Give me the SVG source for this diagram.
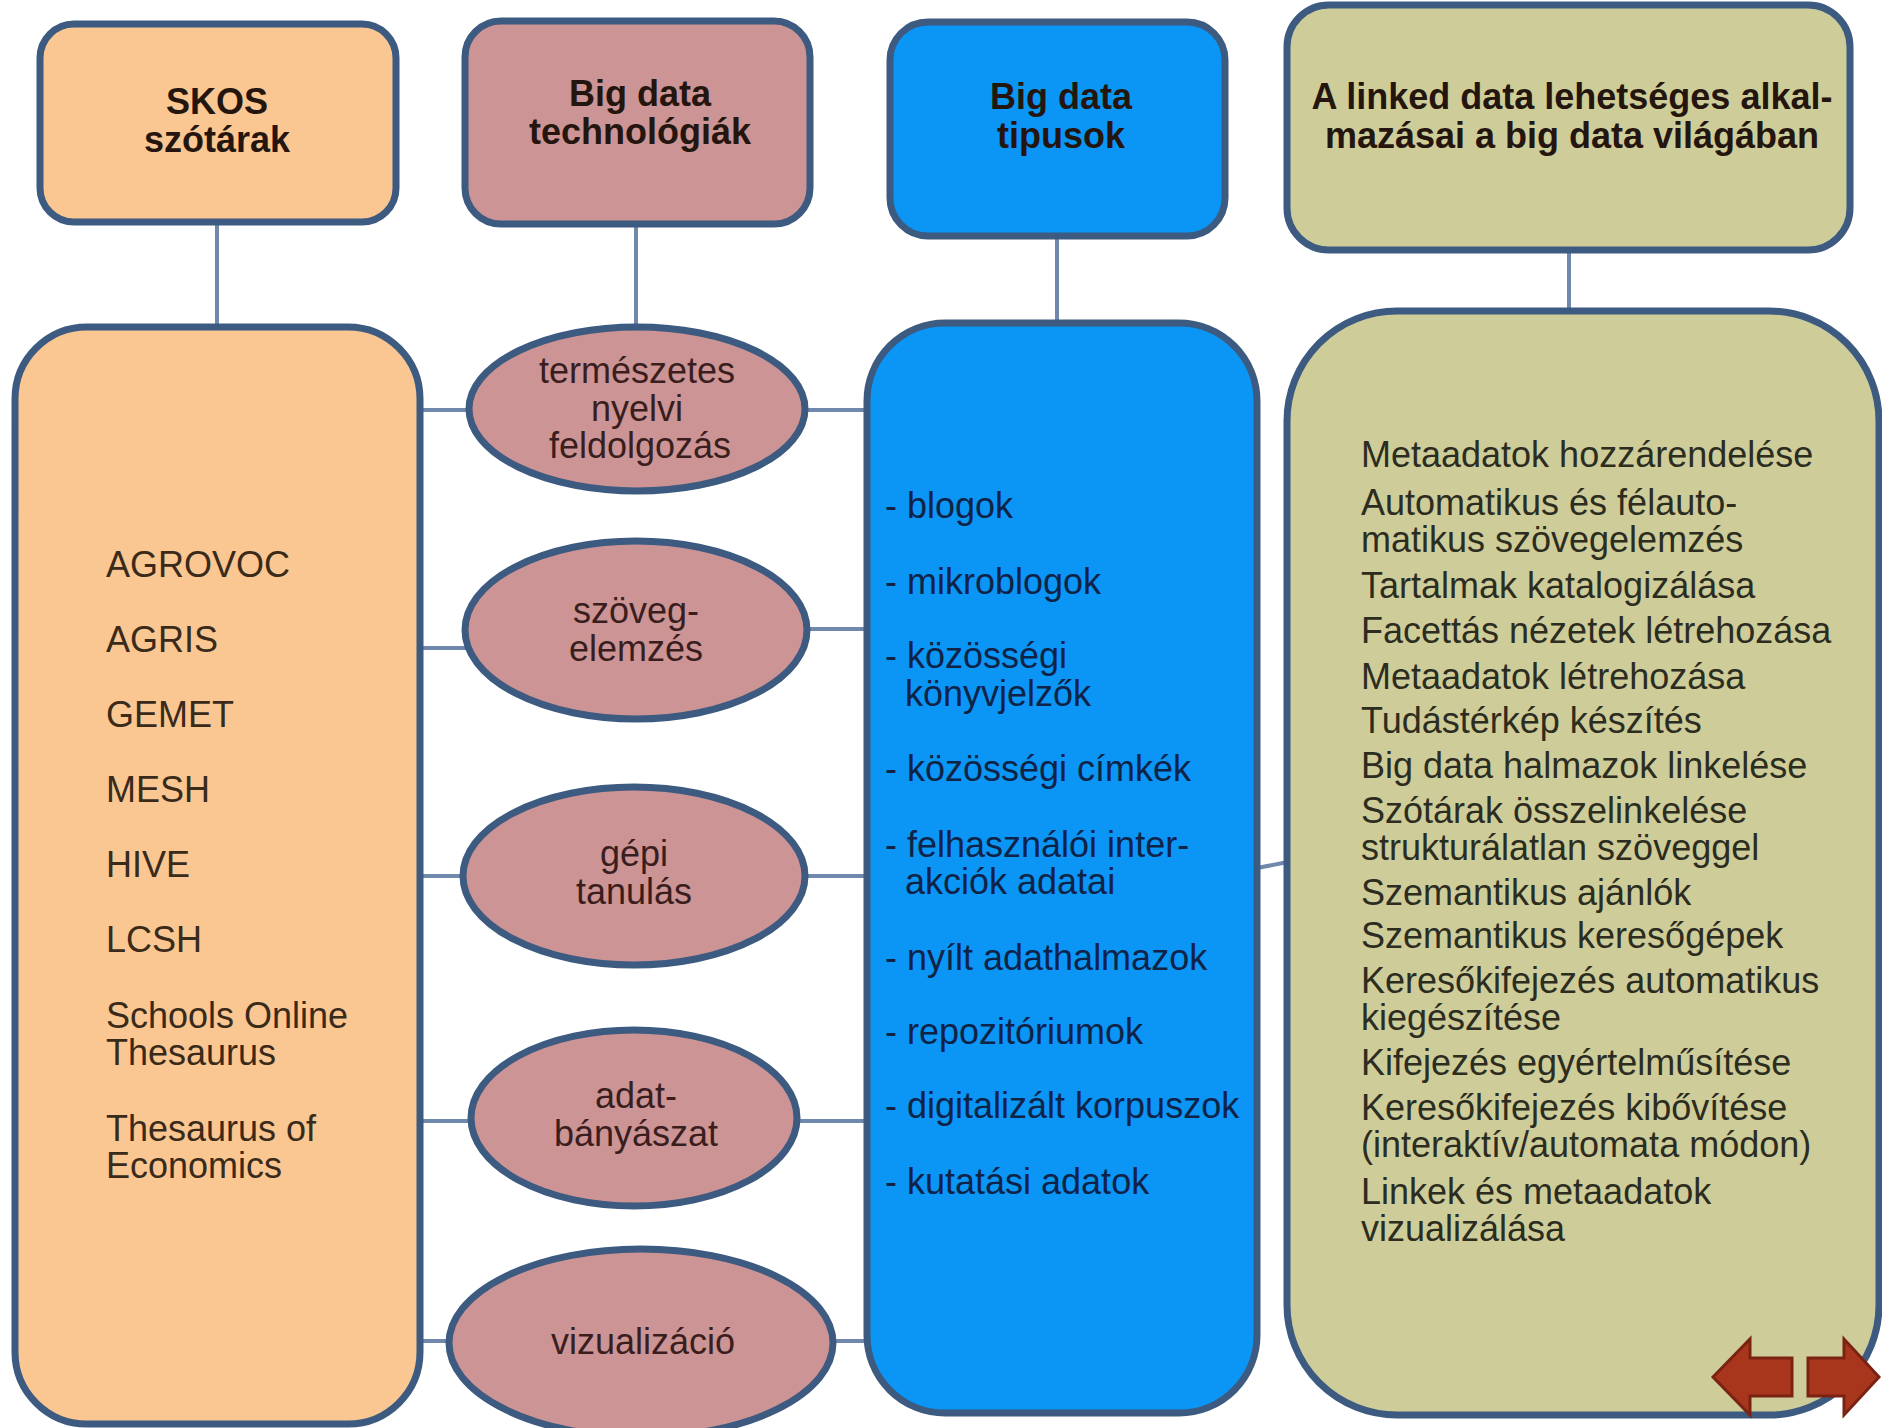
<svg xmlns="http://www.w3.org/2000/svg" width="1882" height="1428" viewBox="0 0 1882 1428">
<style>
.box{stroke:#3D5A80;stroke-width:7}
.peach{fill:#FAC792}
.rose{fill:#CC9494}
.blue{fill:#0B95F4}
.khaki{fill:#CECD9A}
.conn line{stroke:#7088AC;stroke-width:4}
.t{font-family:"Liberation Sans",Arial,sans-serif;font-size:36px}
.title{font-weight:bold;text-anchor:middle;fill:#24160e}
.c{text-anchor:middle;fill:#3a1e1e}
.lp{fill:#3a2a1a}
.lb{fill:#0f2347}
.lk{fill:#2c2c20}
.arrow{fill:#A8361C;stroke:#7A2312;stroke-width:3}
</style>
<rect width="1882" height="1428" fill="#ffffff"/>
<g id="connectors" class="conn">
<line x1="217" y1="222" x2="217" y2="328"/>
<line x1="636" y1="224" x2="636" y2="328"/>
<line x1="1057" y1="236" x2="1057" y2="324"/>
<line x1="1569" y1="250" x2="1569" y2="312"/>
<line x1="420" y1="410" x2="470" y2="410"/>
<line x1="805" y1="410" x2="867" y2="410"/>
<line x1="420" y1="648" x2="466" y2="648"/>
<line x1="806" y1="629" x2="867" y2="629"/>
<line x1="420" y1="876" x2="463" y2="876"/>
<line x1="805" y1="876" x2="867" y2="876"/>
<line x1="420" y1="1121" x2="471" y2="1121"/>
<line x1="797" y1="1121" x2="867" y2="1121"/>
<line x1="420" y1="1341" x2="449" y2="1341"/>
<line x1="833" y1="1341" x2="867" y2="1341"/>
<line x1="1257" y1="868" x2="1288" y2="862"/>
</g>
<g id="skos-title">
<rect class="box peach" x="40" y="24" width="356" height="198" rx="34"/>
<text class="t title" x="217" y="114">SKOS</text>
<text class="t title" x="217" y="152">szótárak</text>
</g>
<g id="tech-title">
<rect class="box rose" x="465" y="21" width="345" height="203" rx="36"/>
<text class="t title" x="640" y="106">Big data</text>
<text class="t title" x="640" y="144">technológiák</text>
</g>
<g id="types-title">
<rect class="box blue" x="890" y="22" width="335" height="214" rx="38"/>
<text class="t title" x="1061" y="109" fill="#0c1e40">Big data</text>
<text class="t title" x="1061" y="148" fill="#0c1e40">tipusok</text>
</g>
<g id="linked-title">
<rect class="box khaki" x="1287" y="5" width="563" height="245" rx="42"/>
<text class="t title" x="1572" y="109">A linked data lehetséges alkal-</text>
<text class="t title" x="1572" y="148">mazásai a big data világában</text>
</g>
<g id="skos-list">
<rect class="box peach" x="15" y="327" width="405" height="1097" rx="72"/>
<text class="t lp" x="106" y="577">AGROVOC</text>
<text class="t lp" x="106" y="652">AGRIS</text>
<text class="t lp" x="106" y="727">GEMET</text>
<text class="t lp" x="106" y="802">MESH</text>
<text class="t lp" x="106" y="877">HIVE</text>
<text class="t lp" x="106" y="952">LCSH</text>
<text class="t lp" x="106" y="1028">Schools Online</text>
<text class="t lp" x="106" y="1065">Thesaurus</text>
<text class="t lp" x="106" y="1141">Thesaurus of</text>
<text class="t lp" x="106" y="1178">Economics</text>
</g>
<g id="nlp">
<ellipse class="box rose" cx="637" cy="409" rx="168" ry="82"/>
<text class="t c" x="637" y="383">természetes</text>
<text class="t c" x="637" y="421">nyelvi</text>
<text class="t c" x="640" y="458">feldolgozás</text>
</g>
<g id="textmining">
<ellipse class="box rose" cx="636" cy="630" rx="171" ry="89"/>
<text class="t c" x="636" y="623">szöveg-</text>
<text class="t c" x="636" y="661">elemzés</text>
</g>
<g id="ml">
<ellipse class="box rose" cx="634" cy="876" rx="171" ry="89"/>
<text class="t c" x="634" y="866">gépi</text>
<text class="t c" x="634" y="904">tanulás</text>
</g>
<g id="datamining">
<ellipse class="box rose" cx="634" cy="1118" rx="163" ry="88"/>
<text class="t c" x="636" y="1108">adat-</text>
<text class="t c" x="636" y="1146">bányászat</text>
</g>
<g id="viz">
<ellipse class="box rose" cx="641" cy="1343" rx="192" ry="94"/>
<text class="t c" x="643" y="1354">vizualizáció</text>
</g>
<g id="types-list">
<rect class="box blue" x="867" y="323" width="390" height="1090" rx="78"/>
<text class="t lb" x="885" y="518">- blogok</text>
<text class="t lb" x="885" y="594">- mikroblogok</text>
<text class="t lb" x="885" y="668">- közösségi</text>
<text class="t lb" x="905" y="706">könyvjelzők</text>
<text class="t lb" x="885" y="781">- közösségi címkék</text>
<text class="t lb" x="885" y="857">- felhasználói inter-</text>
<text class="t lb" x="905" y="894">akciók adatai</text>
<text class="t lb" x="885" y="970">- nyílt adathalmazok</text>
<text class="t lb" x="885" y="1044">- repozitóriumok</text>
<text class="t lb" x="885" y="1118">- digitalizált korpuszok</text>
<text class="t lb" x="885" y="1194">- kutatási adatok</text>
</g>
<g id="linked-list">
<rect class="box khaki" x="1287" y="311" width="592" height="1104" rx="110"/>
<text class="t lk" x="1361" y="467">Metaadatok hozzárendelése</text>
<text class="t lk" x="1361" y="515">Automatikus és félauto-</text>
<text class="t lk" x="1361" y="552">matikus szövegelemzés</text>
<text class="t lk" x="1361" y="598">Tartalmak katalogizálása</text>
<text class="t lk" x="1361" y="643">Facettás nézetek létrehozása</text>
<text class="t lk" x="1361" y="689">Metaadatok létrehozása</text>
<text class="t lk" x="1361" y="733">Tudástérkép készítés</text>
<text class="t lk" x="1361" y="778">Big data halmazok linkelése</text>
<text class="t lk" x="1361" y="823">Szótárak összelinkelése</text>
<text class="t lk" x="1361" y="860">strukturálatlan szöveggel</text>
<text class="t lk" x="1361" y="905">Szemantikus ajánlók</text>
<text class="t lk" x="1361" y="948">Szemantikus keresőgépek</text>
<text class="t lk" x="1361" y="993">Keresőkifejezés automatikus</text>
<text class="t lk" x="1361" y="1030">kiegészítése</text>
<text class="t lk" x="1361" y="1075">Kifejezés egyértelműsítése</text>
<text class="t lk" x="1361" y="1120">Keresőkifejezés kibővítése</text>
<text class="t lk" x="1361" y="1157">(interaktív/automata módon)</text>
<text class="t lk" x="1361" y="1204">Linkek és metaadatok</text>
<text class="t lk" x="1361" y="1241">vizualizálása</text>
</g>
<g id="nav-arrows">
<polygon class="arrow" points="1713,1377 1750,1339 1750,1358 1792,1358 1792,1396 1750,1396 1750,1415"/>
<polygon class="arrow" points="1879,1377 1844,1339 1844,1358 1808,1358 1808,1396 1844,1396 1844,1415"/>
</g>
</svg>
